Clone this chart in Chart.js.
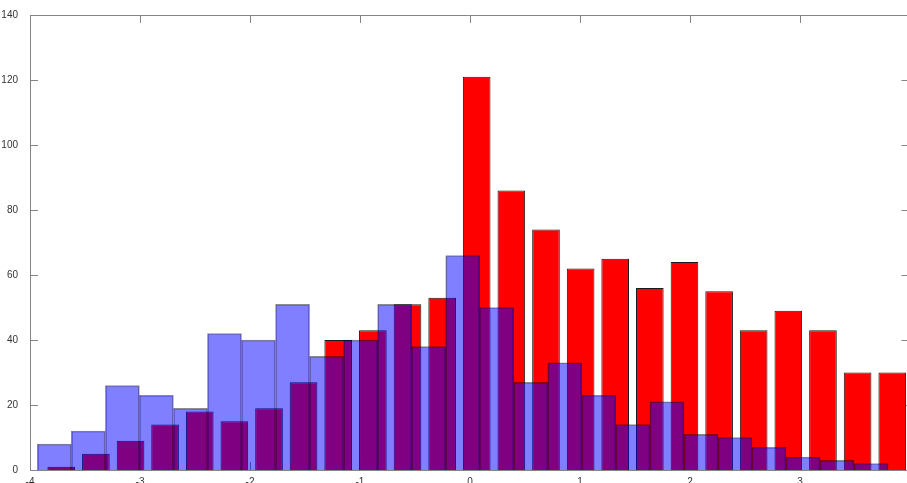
<!DOCTYPE html>
<html>
<head>
<meta charset="utf-8">
<script src="https://cdn.jsdelivr.net/npm/chart.js@4.4.0/dist/chart.umd.min.js"></script>
<style>
  html, body { margin: 0; padding: 0; background: #fff; }
  canvas { display: block; }
</style>
</head>
<body>
<canvas id="chart" width="907" height="483"></canvas>
<script>
const X_MIN = -4;
const X_MAX = 3.973;
const Y_MIN = 0;
const Y_MAX = 140;

// first sample: bin centres and counts (red, drawn underneath)
const redCenters = [
  -3.716, -3.401, -3.086, -2.772, -2.457, -2.142, -1.827, -1.513, -1.198,
  -0.883, -0.568, -0.253, 0.061, 0.376, 0.691, 1.006, 1.32, 1.635, 1.95,
  2.265, 2.579, 2.894, 3.209, 3.524, 3.839,
];
const redCounts = [
  1, 5, 9, 14, 18, 15, 19, 27, 40, 43, 51, 53, 121, 86, 74, 62, 65, 56, 64,
  55, 43, 49, 43, 30, 30,
];

// second sample: bin centres and counts (blue, translucent on top)
const blueCenters = [
  -3.779, -3.47, -3.16, -2.851, -2.541, -2.232, -1.923, -1.613, -1.304,
  -0.994, -0.685, -0.376, -0.066, 0.243, 0.553, 0.862, 1.171, 1.481, 1.79,
  2.1, 2.409, 2.718, 3.028, 3.337, 3.647,
];
const blueCounts = [
  8, 12, 26, 23, 19, 42, 40, 51, 35, 40, 51, 38, 66, 50, 27, 33, 23, 14, 21,
  11, 10, 7, 4, 3, 2,
];

const xTicks = [-4, -3, -2, -1, 0, 1, 2, 3];
const yTicks = [0, 20, 40, 60, 80, 100, 120, 140];

const AXIS_COLOR = "#858585";
const TICK_LEN = 8;

Chart.defaults.font.family = "'Liberation Sans', Arial, sans-serif";
Chart.defaults.font.size = 10;
Chart.defaults.color = "#333";

// top edge of the box plus inward tick marks on all four sides
const boxTicks = {
  id: "boxTicks",
  beforeDatasetsDraw(chart) {
    const { ctx, chartArea: area, scales } = chart;
    ctx.save();
    ctx.strokeStyle = AXIS_COLOR;
    ctx.lineWidth = 1;
    ctx.beginPath();
    ctx.moveTo(area.left, area.top + 0.5);
    ctx.lineTo(area.right, area.top + 0.5);
    xTicks.forEach((v) => {
      const px = Math.round(scales.x.getPixelForValue(v)) + 0.5;
      ctx.moveTo(px, area.top);
      ctx.lineTo(px, area.top + TICK_LEN);
      ctx.moveTo(px, area.bottom);
      ctx.lineTo(px, area.bottom - TICK_LEN);
    });
    yTicks.forEach((v) => {
      const py = Math.round(scales.y.getPixelForValue(v)) + 0.5;
      ctx.moveTo(area.left, py);
      ctx.lineTo(area.left + TICK_LEN, py);
      ctx.moveTo(area.right, py);
      ctx.lineTo(area.right - 5.5, py);
    });
    ctx.stroke();
    ctx.restore();
  },
};

const toPoints = (centers, counts) =>
  centers.map((x, i) => ({ x: x, y: counts[i] }));

new Chart(document.getElementById("chart"), {
  type: "bar",
  data: {
    datasets: [
      {
        label: "Sample B",
        data: toPoints(blueCenters, blueCounts),
        xAxisID: "x2",
        backgroundColor: "rgba(0, 0, 255, 0.5)",
        borderColor: "rgba(0, 0, 0, 0.45)",
        borderWidth: 1,
        barPercentage: 1,
        categoryPercentage: 1,
        grouped: false,
        order: 0,
      },
      {
        label: "Sample A",
        data: toPoints(redCenters, redCounts),
        xAxisID: "x",
        backgroundColor: "#ff0000",
        borderColor: "#1a1a1a",
        borderWidth: 1,
        barPercentage: 0.8,
        categoryPercentage: 1,
        grouped: false,
        order: 1,
      },
    ],
  },
  options: {
    responsive: false,
    animation: false,
    layout: { padding: { top: 15, right: 0, bottom: 0, left: 0 } },
    plugins: {
      legend: { display: false },
      tooltip: { enabled: false },
    },
    scales: {
      x: {
        type: "linear",
        position: "bottom",
        min: X_MIN,
        max: X_MAX,
        offset: false,
        grid: { display: false },
        border: { display: true, color: AXIS_COLOR, width: 1 },
        ticks: { padding: -2, maxRotation: 0 },
        afterBuildTicks: (scale) => {
          scale.ticks = xTicks.map((v) => ({ value: v }));
        },
        afterFit: (scale) => {
          scale.height = 13;
        },
      },
      x2: {
        type: "linear",
        display: false,
        min: X_MIN,
        max: X_MAX,
        offset: false,
      },
      y: {
        type: "linear",
        min: Y_MIN,
        max: Y_MAX,
        grid: { display: false },
        border: { display: true, color: AXIS_COLOR, width: 1 },
        ticks: { padding: 4 },
        afterBuildTicks: (scale) => {
          scale.ticks = yTicks.map((v) => ({ value: v }));
        },
        afterFit: (scale) => {
          scale.width = 30;
        },
      },
    },
  },
  plugins: [boxTicks],
});
</script>
</body>
</html>
